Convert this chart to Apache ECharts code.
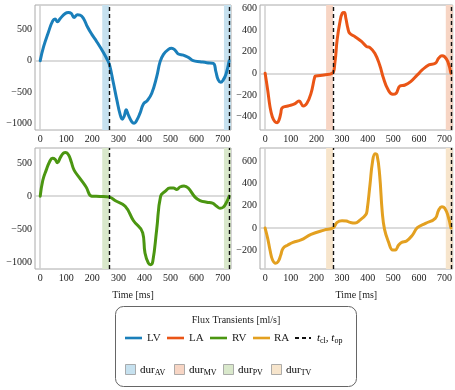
<!DOCTYPE html>
<html>
<head>
<meta charset="utf-8">
<script src="https://cdn.jsdelivr.net/npm/echarts@6/dist/echarts.min.js"></script>
<style>
html, body { margin: 0; padding: 0; background: #fff; }
#chart { width: 455px; height: 390px; }
</style>
</head>
<body>
<div id="chart"></div>
<script>
// flux transients, values
const timeLV = [0, 13, 32, 48, 57, 66, 77, 96, 108, 119, 130, 143, 153, 166, 181, 198, 217, 243, 258, 266, 281, 294, 307, 315, 322, 330, 338, 351, 360, 370, 383, 396, 411, 428, 447, 460, 473, 492, 504, 517, 530, 549, 568, 587, 613, 639, 664, 674, 683, 693, 702, 713, 725];
const fluxLV = [0, 221, 458, 630, 658, 615, 668, 747, 763, 747, 684, 726, 721, 668, 537, 416, 300, 126, 10, -68, -358, -620, -857, -926, -884, -778, -857, -963, -990, -947, -831, -684, -631, -515, -252, -16, 100, 179, 195, 168, 105, 89, 53, 0, -16, -32, -42, -174, -305, -342, -305, -210, 0];

const timeLA = [0, 10, 19, 28, 38, 47, 55, 61, 66, 89, 115, 132, 149, 163, 179, 194, 198, 230, 262, 272, 281, 291, 301, 309, 315, 323, 330, 351, 377, 396, 409, 428, 447, 462, 479, 498, 511, 526, 546, 568, 594, 613, 639, 664, 677, 690, 700, 713, 725];
const fluxLA = [0, -154, -308, -400, -446, -455, -425, -369, -320, -302, -283, -255, -302, -277, -185, -31, -25, -15, 0, 92, 308, 461, 554, 560, 508, 415, 369, 338, 292, 246, 237, 185, 77, -46, -148, -194, -185, -117, -108, -77, -15, 31, 77, 92, 138, 163, 154, 108, 0];

const timeRV = [0, 10, 23, 36, 47, 57, 66, 77, 89, 98, 109, 119, 130, 153, 176, 198, 230, 266, 287, 326, 358, 393, 402, 415, 424, 432, 447, 462, 479, 498, 511, 524, 536, 552, 568, 594, 613, 639, 661, 677, 690, 702, 715, 725];
const fluxRV = [0, 240, 393, 520, 571, 556, 505, 581, 648, 658, 622, 520, 393, 265, 138, 0, -5, -15, -66, -153, -372, -551, -857, -1010, -1035, -984, -500, 0, 71, 122, 122, 102, 138, 153, 122, -15, -66, -92, -107, -153, -184, -168, -92, 0];

const timeRA = [0, 10, 19, 29, 41, 51, 61, 70, 89, 109, 140, 179, 230, 266, 281, 300, 317, 332, 351, 370, 393, 398, 409, 419, 429, 437, 447, 457, 466, 481, 498, 508, 521, 533, 552, 575, 594, 626, 664, 677, 690, 700, 713, 725];
const fluxRA = [0, -93, -197, -287, -316, -301, -242, -182, -152, -128, -107, -57, -18, 3, 51, 66, 63, 51, 45, 72, 122, 161, 385, 594, 669, 654, 475, 146, -12, -122, -197, -197, -152, -128, -116, -63, 3, 42, 87, 161, 191, 182, 116, 0];

const valveOpenClose = [265, 725];
const valveWindows = [[238, 265], [705, 732]];
const timeTicks = [0, 100, 200, 300, 400, 500, 600, 700];

const panels = [
  { name: 'LV', t: timeLV, v: fluxLV, color: '#1a7fba', shade: '#c6e1ef', yMin: -1097, yMax: 881, ticks: [-1000, -500, 0, 500] },
  { name: 'LA', t: timeLA, v: fluxLA, color: '#ea5516', shade: '#f7d5c4', yMin: -523, yMax: 630, ticks: [-400, -200, 0, 200, 400, 600] },
  { name: 'RV', t: timeRV, v: fluxRV, color: '#4b9611', shade: '#d9e8cb', yMin: -1100, yMax: 727, ticks: [-1000, -500, 0, 500] },
  { name: 'RA', t: timeRA, v: fluxRA, color: '#e3a020', shade: '#f7e5cc', yMin: -368, yMax: 720, ticks: [-200, 0, 200, 400, 600] }
];

const font = 'Liberation Serif';
const grids = [
  { left: 35, top: 5, width: 196, height: 125 },
  { left: 260, top: 5, width: 196, height: 125 },
  { left: 35, top: 148, width: 196, height: 121 },
  { left: 260, top: 148, width: 196, height: 121 }
];

function fmt(v) {
  return v < 0 ? '\u2212' + Math.abs(v) : String(v);
}

const xAxes = [], yAxes = [], series = [];
panels.forEach(function (p, i) {
  xAxes.push({
    type: 'value', gridIndex: i, min: -20, max: 732,
    name: i >= 2 ? 'Time [ms]' : '', nameLocation: 'middle', nameGap: 21,
    nameTextStyle: { fontFamily: font, fontSize: 10, color: '#222' },
    axisLine: { show: false }, axisTick: { show: false }, splitLine: { show: false },
    axisLabel: { customValues: timeTicks, fontFamily: font, fontSize: 10, color: '#222', margin: 4, formatter: fmt }
  });
  yAxes.push({
    type: 'value', gridIndex: i, min: p.yMin, max: p.yMax,
    axisLine: { show: false }, axisTick: { show: false }, splitLine: { show: false },
    axisLabel: { customValues: p.ticks, fontFamily: font, fontSize: 10, color: '#222', margin: 3, formatter: fmt }
  });
  const data = p.t.map(function (t, k) { return [t, p.v[k]]; });
  // background helper: zero lines + valve shading
  series.push({
    type: 'line', xAxisIndex: i, yAxisIndex: i, data: data, silent: true,
    showSymbol: false, lineStyle: { opacity: 0 }, z: 1,
    markArea: {
      silent: true, itemStyle: { color: p.shade },
      data: valveWindows.map(function (w) { return [{ xAxis: w[0] }, { xAxis: w[1] }]; })
    },
    markLine: {
      silent: true, symbol: 'none', z: 1, label: { show: false },
      lineStyle: { color: '#cfcfcf', width: 1.5, type: 'solid' },
      data: [{ yAxis: 0 }, { xAxis: 0 }]
    }
  });
  series.push({
    name: p.name, type: 'line', xAxisIndex: i, yAxisIndex: i, data: data,
    showSymbol: false, smooth: 0.45, z: 3,
    lineStyle: { color: p.color, width: 3, cap: 'round', join: 'round' }, itemStyle: { color: p.color },
    markLine: {
      silent: true, symbol: 'none', label: { show: false },
      lineStyle: { color: '#111', width: 1.4, type: [4, 3] },
      data: valveOpenClose.map(function (t) { return { xAxis: t }; })
    }
  });
});

// legend box
const legendY1 = 338, legendY2 = 370;
const lineItems = [
  { x: 125, c: '#1a7fba', label: 'LV', tx: 147 },
  { x: 167, c: '#ea5516', label: 'LA', tx: 189 },
  { x: 210, c: '#4b9611', label: 'RV', tx: 232 },
  { x: 253, c: '#e3a020', label: 'RA', tx: 274 }
];
const boxItems = [
  { x: 125, c: '#c6e1ef', sub: 'AV', tx: 140 },
  { x: 174, c: '#f7d5c4', sub: 'MV', tx: 189 },
  { x: 223, c: '#d9e8cb', sub: 'PV', tx: 238 },
  { x: 271, c: '#f7e5cc', sub: 'TV', tx: 286 }
];
const rich = {
  n: { fontFamily: font, fontSize: 11, color: '#222' },
  i: { fontFamily: font, fontSize: 11, fontStyle: 'italic', color: '#222' },
  s: { fontFamily: font, fontSize: 8, color: '#222', padding: [6, 0, 0, 0] }
};
const graphics = [
  { type: 'rect', shape: { x: 115.5, y: 306.5, width: 241, height: 80, r: 8 }, style: { fill: '#fff', stroke: '#666', lineWidth: 1 } },
  { type: 'text', x: 236, y: 320, style: { text: 'Flux Transients [ml/s]', font: '10px "Liberation Serif"', fill: '#222', textAlign: 'center', textVerticalAlign: 'middle' } }
];
lineItems.forEach(function (it) {
  graphics.push({ type: 'line', shape: { x1: it.x, y1: legendY1, x2: it.x + 17, y2: legendY1 }, style: { stroke: it.c, lineWidth: 2.6 } });
  graphics.push({ type: 'text', x: it.tx, y: legendY1, style: { text: it.label, font: '11px "Liberation Serif"', fill: '#222', textVerticalAlign: 'middle' } });
});
graphics.push({ type: 'line', shape: { x1: 295, y1: legendY1, x2: 311, y2: legendY1 }, style: { stroke: '#111', lineWidth: 2, lineDash: [4, 3] } });
graphics.push({ type: 'text', x: 317, y: legendY1, style: { text: '{i|t}{s|cl}{n|, }{i|t}{s|op}', rich: rich, textVerticalAlign: 'middle' } });
boxItems.forEach(function (it) {
  graphics.push({ type: 'rect', shape: { x: it.x + 0.5, y: legendY2 - 5.5, width: 10, height: 10 }, style: { fill: it.c, stroke: '#999', lineWidth: 0.8 } });
  graphics.push({ type: 'text', x: it.tx, y: legendY2, style: { text: '{n|dur}{s|' + it.sub + '}', rich: rich, textVerticalAlign: 'middle' } });
});

const chart = echarts.init(document.getElementById('chart'));
chart.setOption({
  animation: false,
  backgroundColor: '#fff',
  grid: grids.map(function (g) {
    return Object.assign({ show: true, borderColor: '#aaa', borderWidth: 1, backgroundColor: 'transparent' }, g);
  }),
  xAxis: xAxes,
  yAxis: yAxes,
  series: series,
  graphic: graphics
});
</script>
</body>
</html>
